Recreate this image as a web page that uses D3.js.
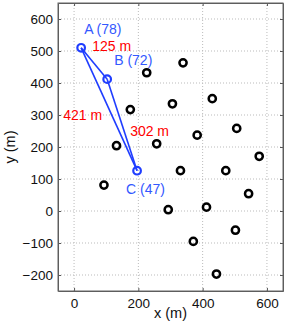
<!DOCTYPE html>
<html>
<head>
<meta charset="utf-8">
<script src="https://cdn.jsdelivr.net/npm/d3@7"></script>
<style>
  body { margin: 0; background: #fff; }
  svg { display: block; font-family: "Liberation Sans", Arial, sans-serif; }
</style>
</head>
<body>
<script>
// black markers (other nodes)
const nodeX = [226, 339, 306, 430, 175, 383, 506, 132, 257, 576, 93, 331, 472, 543, 293, 412, 502, 371, 443];
const nodeY = [432, 463, 335, 351, 317, 237, 258, 204, 210, 171, 81, 126, 126, 54, 4, 12, -60, -95, -197];

// highlighted nodes
const selNames = ["A (78)", "B (72)", "C (47)"];
const selX = [22, 103, 196];
const selY = [510, 412, 126];

// links between highlighted nodes and their lengths
const linkFrom = [0, 0, 1];
const linkTo = [1, 2, 2];
const linkLabels = ["125 m", "421 m", "302 m"];

const xTicks = [0, 200, 400, 600];
const yTicks = [-200, -100, 0, 100, 200, 300, 400, 500, 600];

const width = 286, height = 328;
const margin = { top: 3, right: 3, bottom: 37, left: 58 };

const svg = d3.select("body").append("svg")
    .attr("width", width)
    .attr("height", height);

const x = d3.scaleLinear().domain([-50, 650]).range([margin.left, width - margin.right]);
const y = d3.scaleLinear().domain([-250, 650]).range([height - margin.bottom, margin.top]);

const x0 = margin.left, x1 = width - margin.right;
const y0 = height - margin.bottom, y1 = margin.top;

// grid
svg.append("g").selectAll("line")
    .data(xTicks)
    .enter().append("line")
    .attr("x1", d => x(d)).attr("x2", d => x(d))
    .attr("y1", y0).attr("y2", y1)
    .attr("stroke", "#bbb").attr("stroke-dasharray", "1,2");
svg.append("g").selectAll("line")
    .data(yTicks)
    .enter().append("line")
    .attr("y1", d => y(d)).attr("y2", d => y(d))
    .attr("x1", x0).attr("x2", x1)
    .attr("stroke", "#bbb").attr("stroke-dasharray", "1,2");

// axes
svg.append("g")
    .attr("transform", "translate(0," + y0 + ")")
    .call(d3.axisBottom(x).tickValues(xTicks).tickSizeInner(-3).tickSizeOuter(0).tickPadding(7));
svg.append("g")
    .attr("transform", "translate(" + x0 + ",0)")
    .call(d3.axisLeft(y).tickValues(yTicks).tickSizeInner(-3).tickSizeOuter(0).tickPadding(5)
        .tickFormat(d => d < 0 ? "\u2212" + Math.abs(d) : d));
svg.append("g")
    .attr("transform", "translate(0," + y1 + ")")
    .call(d3.axisTop(x).tickValues(xTicks).tickSizeInner(-3).tickSizeOuter(0).tickFormat(""));
svg.append("g")
    .attr("transform", "translate(" + x1 + ",0)")
    .call(d3.axisRight(y).tickValues(yTicks).tickSizeInner(-3).tickSizeOuter(0).tickFormat(""));

svg.selectAll(".domain").attr("stroke", "#555");
svg.selectAll(".tick line").attr("stroke", "#555");
svg.selectAll(".tick text").attr("font-size", 13.5).attr("fill", "#111")
    .attr("font-family", "Liberation Sans, Arial, sans-serif");

// box
svg.append("rect")
    .attr("x", x0).attr("y", y1)
    .attr("width", x1 - x0).attr("height", y0 - y1)
    .attr("fill", "none").attr("stroke", "#666").attr("stroke-width", 1);

// axis labels
svg.append("text")
    .attr("x", (x0 + x1) / 2).attr("y", 318)
    .attr("text-anchor", "middle").attr("font-size", 14.5).attr("fill", "#111")
    .text("x (m)");
svg.append("text")
    .attr("transform", "translate(15," + (y0 + y1) / 2 + ") rotate(-90)")
    .attr("text-anchor", "middle").attr("font-size", 14.5).attr("fill", "#111")
    .text("y (m)");

// black nodes
svg.append("g").selectAll("circle")
    .data(nodeX)
    .enter().append("circle")
    .attr("cx", d => x(d))
    .attr("cy", (d, i) => y(nodeY[i]))
    .attr("r", 3.6)
    .attr("fill", "none").attr("stroke", "#000").attr("stroke-width", 2.5);

// links
const blue = "#1f3dff";
svg.append("g").selectAll("line")
    .data(linkFrom)
    .enter().append("line")
    .attr("x1", d => x(selX[d])).attr("y1", d => y(selY[d]))
    .attr("x2", (d, i) => x(selX[linkTo[i]])).attr("y2", (d, i) => y(selY[linkTo[i]]))
    .attr("stroke", blue).attr("stroke-width", 1.6);

// highlighted nodes
svg.append("g").selectAll("circle")
    .data(selX)
    .enter().append("circle")
    .attr("cx", d => x(d))
    .attr("cy", (d, i) => y(selY[i]))
    .attr("r", 3.8)
    .attr("fill", "none").attr("stroke", blue).attr("stroke-width", 2.2);

// node labels
const nameOffset = [[3, -14], [7, -14], [-11, 23]];
svg.append("g").selectAll("text")
    .data(selNames)
    .enter().append("text")
    .attr("x", (d, i) => x(selX[i]) + nameOffset[i][0])
    .attr("y", (d, i) => y(selY[i]) + nameOffset[i][1])
    .attr("font-size", 14).attr("fill", "#3358ff")
    .text(d => d);

// distance labels, placed from link midpoints
const distOffset = [[-2, -12, "start"], [-7, 11, "end"], [8, 11, "start"]];
svg.append("g").selectAll("text")
    .data(linkLabels)
    .enter().append("text")
    .attr("x", (d, i) => (x(selX[linkFrom[i]]) + x(selX[linkTo[i]])) / 2 + distOffset[i][0])
    .attr("y", (d, i) => (y(selY[linkFrom[i]]) + y(selY[linkTo[i]])) / 2 + distOffset[i][1])
    .attr("text-anchor", (d, i) => distOffset[i][2])
    .attr("font-size", 14).attr("fill", "#f00")
    .text(d => d);
</script>
</body>
</html>
